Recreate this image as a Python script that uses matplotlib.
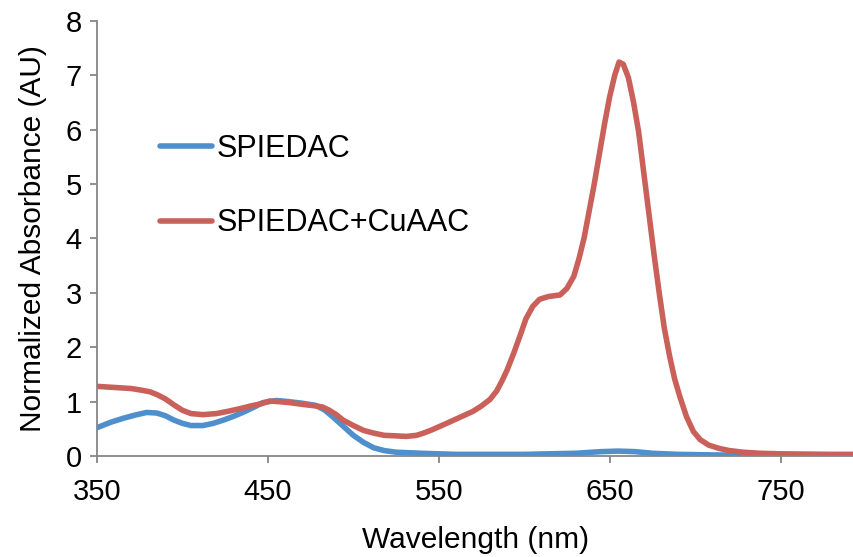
import matplotlib
matplotlib.use("Agg")
import matplotlib.pyplot as plt

plt.rcParams['font.family'] = ['Liberation Sans', 'DejaVu Sans']

# Red series: SPIEDAC+CuAAC
red_wl = [350, 360, 370, 376, 381, 385, 390, 395, 400, 405, 412, 420, 428, 435, 440,
          446, 451, 456, 463, 470, 478, 482, 486, 490, 494, 500, 506, 512, 518, 525,
          531, 537, 541, 546, 551, 556, 563, 570, 575, 580, 584, 587, 590, 594, 598,
          601, 605, 609, 614, 621, 625, 629, 632, 635, 638, 641, 644, 647, 650, 653,
          655.5, 658, 661, 664, 667, 670, 673, 676, 679, 682, 685, 688, 691, 695, 699,
          703, 708, 714, 720, 728, 738, 750, 765, 780, 793]
red_abs = [1.28, 1.26, 1.24, 1.21, 1.18, 1.13, 1.05, 0.94, 0.84, 0.78, 0.76, 0.78, 0.83, 0.88, 0.92,
           0.96, 1.01, 1.0, 0.98, 0.95, 0.92, 0.9, 0.84, 0.76, 0.66, 0.56, 0.47, 0.42, 0.38, 0.37,
           0.36, 0.38, 0.42, 0.48, 0.55, 0.62, 0.72, 0.82, 0.92, 1.04, 1.2, 1.38, 1.58, 1.9, 2.25,
           2.52, 2.75, 2.88, 2.93, 2.96, 3.08, 3.3, 3.62, 4.0, 4.5, 5.0, 5.55, 6.1, 6.6, 7.0,
           7.24, 7.2, 6.95, 6.5, 5.95, 5.2, 4.45, 3.7, 3.0, 2.35, 1.85, 1.42, 1.1, 0.72, 0.45,
           0.3, 0.2, 0.14, 0.1, 0.07, 0.05, 0.04, 0.035, 0.03, 0.03]

# Blue series: SPIEDAC
blue_wl = [350, 358, 365, 372, 379, 385, 390, 395, 400, 405, 412, 418, 424, 430, 436,
           442, 447, 455, 462, 470, 478, 483, 488, 494, 500, 506, 512, 518, 525, 540,
           560, 600, 630, 645, 655, 665, 675, 690, 710, 740, 793]
blue_abs = [0.52, 0.62, 0.69, 0.75, 0.80, 0.79, 0.74, 0.66, 0.60, 0.56, 0.56, 0.60, 0.66, 0.73, 0.81,
            0.90, 0.98, 1.02, 1.00, 0.97, 0.93, 0.85, 0.72, 0.55, 0.38, 0.25, 0.15, 0.10, 0.07, 0.05,
            0.03, 0.03, 0.05, 0.08, 0.09, 0.08, 0.05, 0.03, 0.02, 0.01, 0.01]

series_labels = ["SPIEDAC", "SPIEDAC+CuAAC"]
x_ticks = [350, 450, 550, 650, 750]
y_ticks = [0, 1, 2, 3, 4, 5, 6, 7, 8]

blue = "#4F8FCC"
red = "#C9605A"
axis_gray = "#868686"

fig = plt.figure(figsize=(8.54, 5.57), dpi=100)
ax = fig.add_axes([97 / 854, 1 - 456 / 557, 1 - 97 / 854, (456 - 20.7) / 557])

ax.plot(blue_wl, blue_abs, color=blue, lw=4, label=series_labels[0],
        solid_capstyle='round', solid_joinstyle='round')
ax.plot(red_wl, red_abs, color=red, lw=4, label=series_labels[1],
        solid_capstyle='round', solid_joinstyle='round')

ax.set_xlim(350, 793)
ax.set_ylim(0, 8)
ax.set_xticks(x_ticks)
ax.set_yticks(y_ticks)

for s in ['top', 'right']:
    ax.spines[s].set_visible(False)
for s in ['left', 'bottom']:
    ax.spines[s].set_color(axis_gray)
    ax.spines[s].set_linewidth(1.3)
ax.tick_params(axis='both', direction='out', length=5, width=1.3, color=axis_gray,
               labelsize=21, labelcolor='black')
ax.tick_params(axis='x', pad=11)
ax.tick_params(axis='y', pad=6)

ax.set_xlabel("Wavelength (nm)", fontsize=21.5, labelpad=14)
ax.set_ylabel("Normalized Absorbance (AU)", fontsize=21.5, labelpad=13)

leg = ax.legend(loc='upper left', bbox_to_anchor=(160 / 854, 1 - 134 / 557),
                bbox_transform=fig.transFigure, frameon=False, fontsize=22,
                handlelength=1.7, handletextpad=0.15, labelspacing=1.45,
                borderpad=0, borderaxespad=0)

fig.savefig("out.png", dpi=100)
